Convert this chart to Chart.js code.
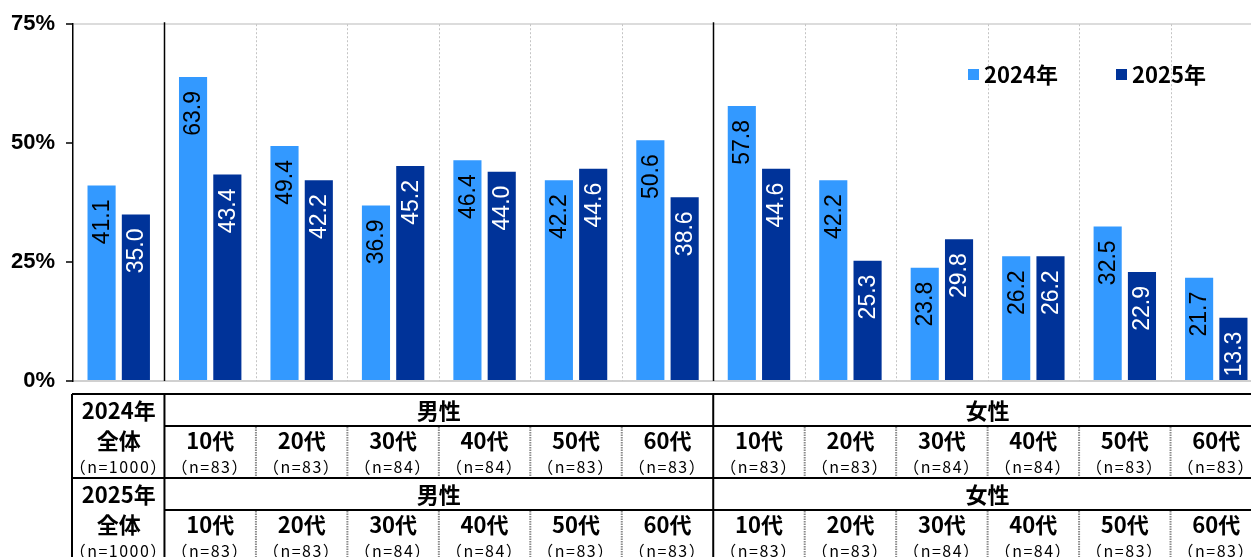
<!DOCTYPE html>
<html lang="ja">
<head>
<meta charset="utf-8">
<script src="https://cdn.jsdelivr.net/npm/chart.js@4.4.1/dist/chart.umd.min.js"></script>
<style>
  html, body { margin: 0; padding: 0; background: #fff; }
  #wrap { width: 1251px; height: 557px; position: relative; overflow: hidden; }
  #chart { display: block; }
</style>
</head>
<body>
<div id="wrap"><canvas id="chart" width="1262" height="557"></canvas></div>
<script>
// categories: overall, then male/female by age bracket
const ageLabels = ['全体', '10代', '20代', '30代', '40代', '50代', '60代', '10代', '20代', '30代', '40代', '50代', '60代'];
const sampleSizes = ['1000', '83', '83', '84', '84', '83', '83', '83', '83', '84', '84', '83', '83'];
const genderGroups = ['男性', '女性'];
const yearLabels = ['2024年', '2025年'];
const values2024 = [41.1, 63.9, 49.4, 36.9, 46.4, 42.2, 50.6, 57.8, 42.2, 23.8, 26.2, 32.5, 21.7];
const values2025 = [35.0, 43.4, 42.2, 45.2, 44.0, 44.6, 38.6, 44.6, 25.3, 29.8, 26.2, 22.9, 13.3];
const yTicks = [0, 25, 50, 75];

const colors = ['#3399ff', '#003399'];
const labelColors = ['#000000', '#ffffff'];
const numFont = '"Liberation Sans", Arial, sans-serif';
const jpFont = '"Noto Sans CJK JP", sans-serif';

// vertical separators between categories (solid between overall / male / female)
const separatorPlugin = {
  id: 'separators',
  beforeDatasetsDraw(chart) {
    const { ctx, chartArea } = chart;
    const x = chart.scales.x;
    const cw = x.getPixelForValue(1) - x.getPixelForValue(0);
    ctx.save();
    for (let i = 1; i < ageLabels.length; i++) {
      const px = Math.round(x.getPixelForValue(i) - cw / 2) + 0.5;
      const major = i === 1 || i === 7;
      ctx.beginPath();
      if (major) {
        ctx.strokeStyle = '#000';
        ctx.lineWidth = 1.5;
        ctx.setLineDash([]);
        ctx.moveTo(px, chartArea.top - 2);
      } else {
        ctx.strokeStyle = '#c4c4c4';
        ctx.lineWidth = 1;
        ctx.setLineDash([2, 2]);
        ctx.moveTo(px, chartArea.top);
      }
      ctx.lineTo(px, chartArea.bottom);
      ctx.stroke();
    }
    ctx.restore();
  }
};

// rotated value labels inside the top of each bar
const barLabelPlugin = {
  id: 'barLabels',
  afterDatasetsDraw(chart) {
    const { ctx } = chart;
    ctx.save();
    ctx.font = '23px ' + numFont;
    ctx.textAlign = 'right';
    ctx.textBaseline = 'middle';
    chart.data.datasets.forEach((ds, di) => {
      const meta = chart.getDatasetMeta(di);
      meta.data.forEach((bar, i) => {
        ctx.save();
        ctx.translate(bar.x + 1, bar.y + 14);
        ctx.rotate(-Math.PI / 2);
        ctx.fillStyle = labelColors[di];
        ctx.fillText(ds.data[i].toFixed(1), 0, 0);
        ctx.restore();
      });
    });
    ctx.restore();
  }
};

// legend drawn inside the plot, top right
const legendPlugin = {
  id: 'innerLegend',
  afterDraw(chart) {
    const { ctx } = chart;
    ctx.save();
    ctx.font = 'bold 22px ' + jpFont;
    ctx.textBaseline = 'middle';
    ctx.textAlign = 'left';
    let lx = 968;
    const ly = 74;
    chart.data.datasets.forEach(ds => {
      ctx.fillStyle = ds.backgroundColor;
      ctx.fillRect(lx, ly - 5, 11, 11);
      ctx.fillStyle = '#000';
      ctx.fillText(ds.label, lx + 16, ly + 1);
      lx += 148;
    });
    ctx.restore();
  }
};

// sample size table below the axis, one block per survey year
const tablePlugin = {
  id: 'sampleTable',
  afterDraw(chart) {
    const { ctx } = chart;
    const x = chart.scales.x;
    const cw = x.getPixelForValue(1) - x.getPixelForValue(0);
    const edge = i => x.getPixelForValue(0) - cw / 2 + i * cw;
    const headH = 32, bodyH = 52, top0 = 394;
    const right = edge(ageLabels.length) + 20;

    const solid = (x1, y1, x2, y2) => {
      ctx.beginPath();
      ctx.setLineDash([]);
      ctx.strokeStyle = '#000';
      ctx.lineWidth = 2;
      ctx.moveTo(x1, y1);
      ctx.lineTo(x2, y2);
      ctx.stroke();
    };
    const dotted = (x1, y1, x2, y2) => {
      ctx.beginPath();
      ctx.setLineDash([1.5, 1]);
      ctx.strokeStyle = '#8a8a8a';
      ctx.lineWidth = 2;
      ctx.moveTo(x1, y1);
      ctx.lineTo(x2, y2);
      ctx.stroke();
    };
    const sizeText = (n, cx, cy) => {
      ctx.font = '16px ' + jpFont;
      ctx.letterSpacing = '1.5px';
      ctx.fillText('（n=' + n + '）', cx, cy);
      ctx.letterSpacing = '0px';
    };

    ctx.save();
    yearLabels.forEach((year, k) => {
      const top = top0 + k * (headH + bodyH);
      const mid = top + headH;
      const bot = mid + bodyH;
      const left = edge(0) - 1;

      solid(left, top, right, top);
      solid(edge(1), mid, right, mid);
      solid(left, bot, right, bot);
      solid(left, top, left, bot);
      solid(edge(1), top, edge(1), bot);
      solid(edge(7), top, edge(7), bot);
      for (let i = 2; i < ageLabels.length; i++) {
        if (i === 7) continue;
        dotted(edge(i), mid + 1, edge(i), bot - 1);
      }

      ctx.fillStyle = '#000';
      ctx.textAlign = 'center';
      ctx.textBaseline = 'middle';

      // overall column
      const c0 = (edge(0) + edge(1)) / 2;
      ctx.font = 'bold 22px ' + jpFont;
      ctx.fillText(year, c0, top + 17);
      ctx.fillText(ageLabels[0], c0, top + 47);
      sizeText(sampleSizes[0], c0, top + 73);

      // gender headers
      ctx.font = 'bold 22px ' + jpFont;
      ctx.fillText(genderGroups[0], (edge(1) + edge(7)) / 2, top + 17);
      ctx.fillText(genderGroups[1], (edge(7) + edge(13)) / 2, top + 17);

      // age brackets
      for (let i = 1; i < ageLabels.length; i++) {
        const cx = (edge(i) + edge(i + 1)) / 2;
        ctx.font = 'bold 22px ' + jpFont;
        ctx.fillText(ageLabels[i], cx, mid + 15);
        sizeText(sampleSizes[i], cx, mid + 41);
      }
    });
    ctx.restore();
  }
};

new Chart(document.getElementById('chart'), {
  type: 'bar',
  data: {
    labels: ageLabels,
    datasets: [
      { label: yearLabels[0], data: values2024, backgroundColor: colors[0] },
      { label: yearLabels[1], data: values2025, backgroundColor: colors[1] }
    ]
  },
  options: {
    responsive: false,
    animation: false,
    categoryPercentage: 0.75,
    barPercentage: 0.82,
    layout: { padding: { top: 24, right: 0, bottom: 176, left: 0 } },
    plugins: {
      legend: { display: false },
      tooltip: { enabled: false }
    },
    scales: {
      x: {
        ticks: { display: false },
        grid: { display: false, drawTicks: false },
        border: { color: '#d0d0d0', width: 2 }
      },
      y: {
        min: 0,
        max: 75,
        afterBuildTicks: s => { s.ticks = yTicks.map(v => ({ value: v })); },
        afterFit: s => { s.width = 73; },
        ticks: {
          callback: v => v + '%',
          color: '#000',
          padding: 11,
          font: { family: numFont, size: 22, weight: 'bold' }
        },
        grid: {
          color: c => (c.tick && c.tick.value === 75 ? '#dcdcdc' : 'rgba(0,0,0,0)'),
          lineWidth: 2,
          tickColor: '#000',
          tickLength: 7,
          tickWidth: 1.5
        },
        border: { color: '#000', width: 1.5 }
      }
    }
  },
  plugins: [separatorPlugin, barLabelPlugin, legendPlugin, tablePlugin]
});
</script>
</body>
</html>
